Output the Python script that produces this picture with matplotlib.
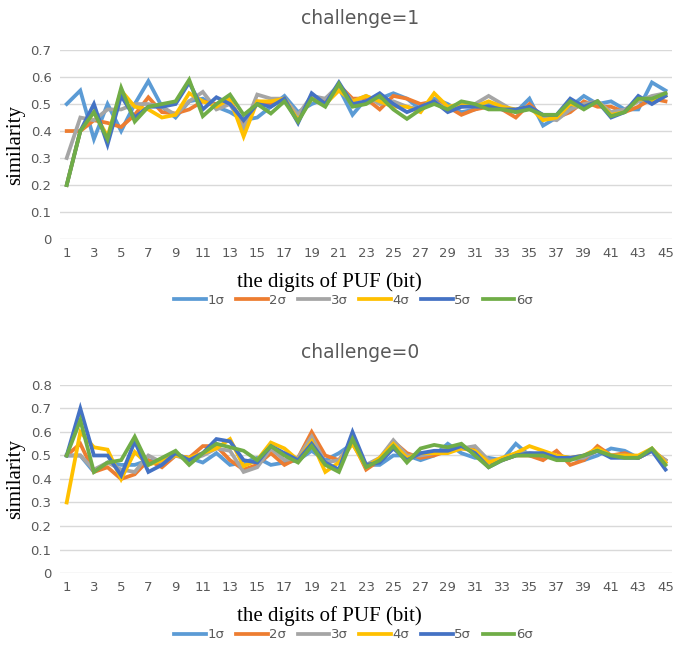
import numpy as np
import matplotlib
matplotlib.use("Agg")
import matplotlib.pyplot as plt

bits = np.arange(1, 46)
sigma_labels = ["1σ", "2σ", "3σ", "4σ", "5σ", "6σ"]
colors = ["#5B9BD5", "#ED7D31", "#A5A5A5", "#FFC000", "#4472C4", "#70AD47"]

# challenge = 1
c1_s1 = [0.50, 0.55, 0.37, 0.50, 0.40, 0.50, 0.585, 0.49, 0.45, 0.51, 0.52, 0.49, 0.47, 0.44, 0.45,
         0.49, 0.53, 0.47, 0.50, 0.52, 0.56, 0.46, 0.52, 0.52, 0.54, 0.52, 0.48, 0.52, 0.50, 0.47,
         0.48, 0.50, 0.49, 0.47, 0.52, 0.42, 0.45, 0.49, 0.53, 0.50, 0.51, 0.48, 0.48, 0.58, 0.55]
c1_s2 = [0.40, 0.40, 0.44, 0.43, 0.415, 0.46, 0.525, 0.47, 0.465, 0.48, 0.51, 0.50, 0.51, 0.43, 0.51,
         0.50, 0.52, 0.45, 0.53, 0.51, 0.57, 0.52, 0.52, 0.48, 0.53, 0.52, 0.50, 0.51, 0.49, 0.46,
         0.48, 0.49, 0.48, 0.45, 0.50, 0.45, 0.45, 0.47, 0.51, 0.49, 0.49, 0.47, 0.49, 0.52, 0.51]
c1_s3 = [0.30, 0.45, 0.44, 0.48, 0.48, 0.50, 0.50, 0.49, 0.46, 0.51, 0.545, 0.48, 0.50, 0.41, 0.535,
         0.52, 0.52, 0.46, 0.53, 0.52, 0.57, 0.51, 0.53, 0.50, 0.51, 0.49, 0.48, 0.51, 0.48, 0.49,
         0.50, 0.53, 0.50, 0.47, 0.49, 0.45, 0.44, 0.48, 0.50, 0.51, 0.47, 0.48, 0.51, 0.53, 0.54]
c1_s4 = [0.20, 0.40, 0.47, 0.38, 0.55, 0.49, 0.48, 0.45, 0.46, 0.54, 0.51, 0.49, 0.52, 0.38, 0.51,
         0.51, 0.52, 0.44, 0.52, 0.50, 0.55, 0.51, 0.53, 0.51, 0.49, 0.49, 0.47, 0.54, 0.49, 0.50,
         0.49, 0.51, 0.49, 0.48, 0.49, 0.44, 0.45, 0.50, 0.49, 0.51, 0.46, 0.47, 0.52, 0.51, 0.53]
c1_s5 = [0.20, 0.40, 0.50, 0.35, 0.53, 0.45, 0.49, 0.49, 0.50, 0.58, 0.48, 0.525, 0.50, 0.44, 0.50,
         0.49, 0.52, 0.43, 0.54, 0.50, 0.58, 0.50, 0.51, 0.54, 0.50, 0.47, 0.49, 0.51, 0.47, 0.49,
         0.49, 0.49, 0.48, 0.48, 0.49, 0.46, 0.46, 0.52, 0.49, 0.51, 0.45, 0.47, 0.53, 0.50, 0.53]
c1_s6 = [0.20, 0.40, 0.47, 0.37, 0.56, 0.435, 0.49, 0.50, 0.51, 0.59, 0.455, 0.50, 0.535, 0.46, 0.50,
         0.465, 0.51, 0.435, 0.52, 0.49, 0.575, 0.49, 0.50, 0.53, 0.48, 0.445, 0.48, 0.50, 0.48, 0.51,
         0.50, 0.48, 0.48, 0.47, 0.48, 0.46, 0.46, 0.51, 0.48, 0.51, 0.455, 0.47, 0.52, 0.52, 0.54]

# challenge = 0
c0_s1 = [0.50, 0.50, 0.43, 0.47, 0.46, 0.46, 0.48, 0.47, 0.50, 0.49, 0.47, 0.51, 0.46, 0.47, 0.49,
         0.46, 0.47, 0.48, 0.52, 0.48, 0.51, 0.55, 0.46, 0.46, 0.50, 0.50, 0.48, 0.50, 0.55, 0.51,
         0.49, 0.49, 0.48, 0.55, 0.50, 0.49, 0.50, 0.49, 0.48, 0.50, 0.53, 0.52, 0.49, 0.52, 0.47]
c0_s2 = [0.50, 0.55, 0.43, 0.45, 0.40, 0.42, 0.48, 0.45, 0.50, 0.49, 0.54, 0.54, 0.48, 0.44, 0.46,
         0.51, 0.46, 0.49, 0.60, 0.50, 0.48, 0.56, 0.44, 0.48, 0.56, 0.51, 0.49, 0.50, 0.52, 0.53,
         0.53, 0.47, 0.48, 0.50, 0.50, 0.48, 0.52, 0.46, 0.48, 0.54, 0.50, 0.51, 0.49, 0.52, 0.48]
c0_s3 = [0.50, 0.50, 0.44, 0.47, 0.44, 0.43, 0.50, 0.47, 0.50, 0.48, 0.50, 0.53, 0.52, 0.43, 0.45,
         0.53, 0.48, 0.49, 0.58, 0.47, 0.48, 0.56, 0.46, 0.49, 0.565, 0.50, 0.50, 0.51, 0.53, 0.53,
         0.54, 0.48, 0.48, 0.51, 0.51, 0.50, 0.49, 0.49, 0.49, 0.52, 0.50, 0.50, 0.49, 0.52, 0.48]
c0_s4 = [0.30, 0.60, 0.535, 0.525, 0.40, 0.515, 0.46, 0.48, 0.50, 0.49, 0.51, 0.53, 0.57, 0.455, 0.48,
         0.555, 0.53, 0.48, 0.56, 0.43, 0.47, 0.55, 0.45, 0.49, 0.55, 0.49, 0.51, 0.51, 0.51, 0.53,
         0.52, 0.47, 0.49, 0.51, 0.54, 0.52, 0.50, 0.49, 0.50, 0.53, 0.50, 0.50, 0.50, 0.53, 0.47]
c0_s5 = [0.50, 0.70, 0.50, 0.50, 0.415, 0.56, 0.43, 0.46, 0.51, 0.48, 0.51, 0.57, 0.56, 0.48, 0.47,
         0.54, 0.51, 0.48, 0.55, 0.47, 0.44, 0.60, 0.46, 0.47, 0.53, 0.48, 0.51, 0.52, 0.52, 0.54,
         0.51, 0.45, 0.48, 0.50, 0.51, 0.51, 0.49, 0.49, 0.50, 0.52, 0.49, 0.49, 0.49, 0.52, 0.44]
c0_s6 = [0.50, 0.65, 0.43, 0.47, 0.48, 0.58, 0.46, 0.49, 0.52, 0.46, 0.51, 0.55, 0.535, 0.52, 0.48,
         0.54, 0.50, 0.47, 0.54, 0.46, 0.43, 0.57, 0.45, 0.48, 0.54, 0.47, 0.53, 0.545, 0.535, 0.55,
         0.50, 0.45, 0.48, 0.50, 0.50, 0.50, 0.48, 0.48, 0.50, 0.52, 0.50, 0.49, 0.49, 0.53, 0.46]

panels = [
    ("challenge=1", [c1_s1, c1_s2, c1_s3, c1_s4, c1_s5, c1_s6], 0.7),
    ("challenge=0", [c0_s1, c0_s2, c0_s3, c0_s4, c0_s5, c0_s6], 0.8),
]

text_gray = "#595959"
grid_gray = "#D9D9D9"

fig = plt.figure(figsize=(6.73, 6.49), dpi=100)
axes_rects = [[0.089, 0.6317, 0.910, 0.2912], [0.089, 0.1171, 0.910, 0.2897]]
title_y = [0.972, 0.457]
legend_y = [0.537, 0.022]

for rect, (title, series, ymax), ty, ly in zip(axes_rects, panels, title_y, legend_y):
    ax = fig.add_axes(rect)
    for vals, lab, col in zip(series, sigma_labels, colors):
        ax.plot(bits, vals, color=col, lw=2.7, label=lab, solid_joinstyle="miter")

    ax.set_xlim(0.5, 45.5)
    ax.set_ylim(0, ymax)
    ax.set_yticks(np.arange(0, ymax + 0.001, 0.1))
    ax.set_yticklabels(["0" if v == 0 else f"{v:.1f}" for v in np.arange(0, ymax + 0.001, 0.1)])
    ax.set_xticks(bits[::2])
    ax.grid(axis="y", color=grid_gray, lw=1)
    ax.set_axisbelow(True)
    for s in ax.spines.values():
        s.set_visible(False)
    ax.tick_params(length=0, labelsize=9.5, labelcolor=text_gray, pad=6)

    ax.set_ylabel("similarity", family="Liberation Serif", fontsize=15, labelpad=4)
    ax.set_xlabel("the digits of PUF (bit)", family="Liberation Serif", fontsize=15)
    ax.xaxis.set_label_coords(0.44, -0.175)

    fig.text(0.535, ty, title, ha="center", va="center", fontsize=13.5, color=text_gray)
    ax.legend(loc="center", bbox_to_anchor=(0.525, ly), bbox_transform=fig.transFigure,
              ncol=6, frameon=False, fontsize=9.5, labelcolor=text_gray,
              handlelength=2.4, handletextpad=0.1, columnspacing=0.9)

fig.savefig("out.png", dpi=100)
